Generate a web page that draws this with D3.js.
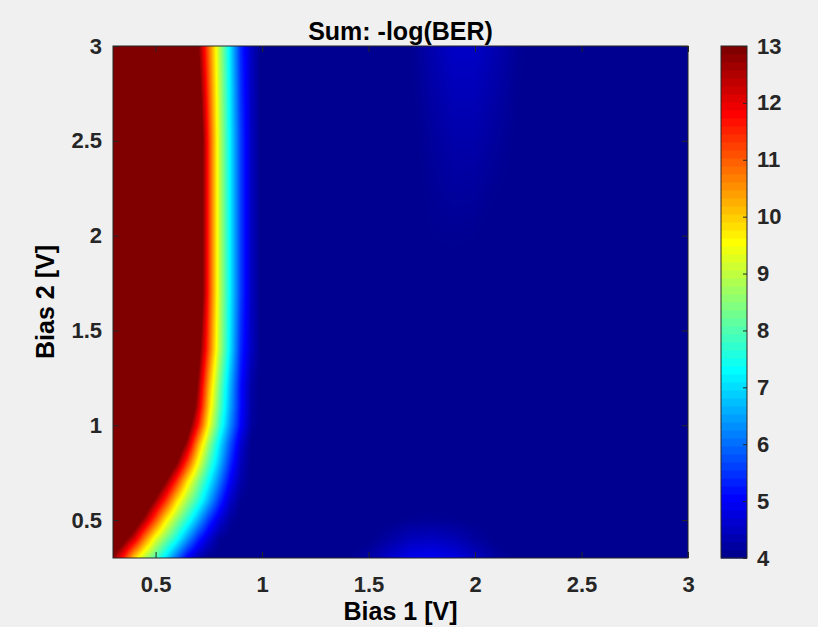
<!DOCTYPE html>
<html>
<head>
<meta charset="utf-8">
<script src="https://cdn.jsdelivr.net/npm/d3@7"></script>
<style>
  body { margin: 0; background: #f0f0f0; }
  svg { display: block; }
</style>
</head>
<body>
<svg id="chart" width="818" height="627"></svg>
<script>
// ---------------- DATA ----------------
const titleText = "Sum: -log(BER)";
const xLabelText = "Bias 1 [V]";
const yLabelText = "Bias 2 [V]";

// Bias 1 grid (columns), Bias 2 grid (rows)
const bias1 = [0.30,0.35,0.40,0.45,0.50,0.55,0.60,0.65,0.70,0.75,0.80,0.85,0.90,0.95,1.00,1.05,
               1.2,1.4,1.5,1.6,1.7,1.8,1.9,2.0,2.1,2.2,2.3,2.5,2.7,3.0];
const bias2 = [0.3,0.4,0.5,0.6,0.7,0.8,0.9,1.0,1.1,1.2,1.4,1.7,2.0,2.5,3.0];

// -log(BER) sum, one row per bias2 value (values above 13 / below 4 are clipped by the colour axis)
const row030 = [12.8,11.55,9.95,8.85,7.95,7.0,5.95,4.95,4.35,4.05,4.0,4.0,4.0,4.0,4.0,4.0, 4.0,4.05,4.25,4.6,4.9,4.95,4.8,4.5,4.2,4.05,4.0,4.0,4.0,4.0];
const row040 = [14.3,13.25,12.15,10.65,9.3,8.33,7.4,6.36,5.35,4.63,4.14,4.0,4.0,4.0,4.0,4.0, 4.0,4.0,4.05,4.25,4.45,4.5,4.4,4.2,4.05,4.0,4.0,4.0,4.0,4.0];
const row050 = [15,15,13.8,12.5,11.1,9.65,8.55,7.6,6.55,5.5,4.7,4.2,4.0,4.0,4.0,4.0, 4.0,4.0,4.0,4.05,4.12,4.15,4.1,4.05,4.0,4.0,4.0,4.0,4.0,4.0];
const row060 = [15,15,15,14.0,12.65,11.3,9.8,8.65,7.65,6.55,5.45,4.55,4.1,4.0,4.0,4.0, 4,4,4,4,4,4,4,4,4,4,4,4,4,4];
const row070 = [15,15,15,15,14.1,12.8,11.3,9.7,8.4,7.25,6.1,5.0,4.3,4.05,4.0,4.0, 4,4,4,4,4,4,4,4,4,4,4,4,4,4];
const row080 = [15,15,15,15,15,14.25,12.9,11.2,9.45,7.95,6.7,5.43,4.45,4.05,4.0,4.0, 4,4,4,4,4,4,4,4,4,4,4,4,4,4];
const row090 = [15,15,15,15,15,15,14.06,12.5,10.4,8.6,7.1,5.8,4.65,4.05,4.0,4.0, 4,4,4,4,4,4,4,4,4,4,4,4,4,4];
const row100 = [15,15,15,15,15,15,15,13.55,11.65,9.5,7.75,6.3,5.05,4.2,4.0,4.0, 4,4,4,4,4,4,4,4,4,4,4,4,4,4];
const row110 = [15,15,15,15,15,15,15,14.3,12.35,10.0,8.1,6.55,5.15,4.25,4.0,4.0, 4,4,4,4,4,4,4,4,4,4,4,4,4,4];
const row120 = [15,15,15,15,15,15,15,14.7,12.7,10.3,8.3,6.65,5.15,4.25,4.0,4.0, 4,4,4,4,4,4,4,4,4,4,4,4,4,4];
const row140 = [15,15,15,15,15,15,15,15,13.4,11.1,8.9,7.1,5.4,4.5,4.0,4.0, 4,4,4,4,4,4,4,4,4,4,4,4,4,4];
const row170 = [15,15,15,15,15,15,15,15,14.1,11.4,9.05,7.2,5.6,4.5,4.0,4.0, 4,4,4,4,4,4,4,4,4,4,4,4,4,4];
const row200 = [15,15,15,15,15,15,15,15,14.1,11.4,9.05,7.2,5.6,4.5,4.0,4.0, 4,4,4,4,4,4.08,4.1,4.08,4,4,4,4,4,4];
const row250 = [15,15,15,15,15,15,15,15,14.1,11.4,9.05,7.2,5.6,4.5,4.0,4.0, 4,4,4,4,4.02,4.18,4.3,4.3,4.18,4.05,4,4,4,4];
const row300 = [15,15,15,15,15,15,15,15,13.0,10.9,8.9,7.1,5.4,4.5,4.0,4.0, 4,4,4,4,4.08,4.35,4.55,4.55,4.35,4.12,4,4,4,4];
const sumLogBER = [row030,row040,row050,row060,row070,row080,row090,row100,row110,row120,row140,row170,row200,row250,row300];

const xTickValues = [0.5, 1, 1.5, 2, 2.5, 3];
const xTickLabels = ["0.5", "1", "1.5", "2", "2.5", "3"];
const yTickValues = [0.5, 1, 1.5, 2, 2.5, 3];
const yTickLabels = ["0.5", "1", "1.5", "2", "2.5", "3"];
const cTickValues = [4, 5, 6, 7, 8, 9, 10, 11, 12, 13];
const cLimits = [4, 13];
const axisLimits = [0.3, 3];

// ---------------- LAYOUT ----------------
const plotL = 113, plotR = 688, plotT = 46, plotB = 558;
const cbL = 721, cbR = 747;
const ink = "#262626";
const fontFam = '"Liberation Sans", Arial, Helvetica, sans-serif';

const x = d3.scaleLinear().domain(axisLimits).range([plotL, plotR]);
const y = d3.scaleLinear().domain(axisLimits).range([plotB, plotT]);
const cScale = d3.scaleLinear().domain(cLimits).range([plotB, plotT]);

// MATLAB jet(64) colormap (stop positions at colour-index centres)
const nColors = 64;
const step = (cLimits[1] - cLimits[0]) / nColors;
const jetStops = [0.5, 7.5, 23.5, 39.5, 55.5, 63.5].map(i => cLimits[0] + i * step);
const jet = d3.scaleLinear().domain(jetStops)
  .range(["#000090", "#0000ff", "#00ffff", "#ffff00", "#ff0000", "#800000"])
  .interpolate(d3.interpolateRgb).clamp(true);

// bilinear interpolation on the (non-uniform) grid
function valueAt(xv, yv) {
  let i = d3.bisectRight(bias1, xv) - 1; i = Math.max(0, Math.min(bias1.length - 2, i));
  let j = d3.bisectRight(bias2, yv) - 1; j = Math.max(0, Math.min(bias2.length - 2, j));
  const tx = Math.max(0, Math.min(1, (xv - bias1[i]) / (bias1[i + 1] - bias1[i])));
  const ty = Math.max(0, Math.min(1, (yv - bias2[j]) / (bias2[j + 1] - bias2[j])));
  const a = sumLogBER[j][i], b = sumLogBER[j][i + 1];
  const c = sumLogBER[j + 1][i], d = sumLogBER[j + 1][i + 1];
  return (a * (1 - tx) + b * tx) * (1 - ty) + (c * (1 - tx) + d * tx) * ty;
}

// colour lookup table
const LUT_N = 1024;
const lut = d3.range(LUT_N).map(k => d3.rgb(jet(cLimits[0] + (k + 0.5) / LUT_N * (cLimits[1] - cLimits[0]))));

const W = plotR - plotL, H = plotB - plotT;
const canvas = document.createElement("canvas");
canvas.width = W; canvas.height = H;
const ctx = canvas.getContext("2d");
const img = ctx.createImageData(W, H);
for (let py = 0; py < H; py++) {
  const yv = y.invert(plotT + py + 0.5);
  for (let px = 0; px < W; px++) {
    const xv = x.invert(plotL + px + 0.5);
    const v = valueAt(xv, yv);
    let k = Math.floor((v - cLimits[0]) / (cLimits[1] - cLimits[0]) * LUT_N);
    k = Math.max(0, Math.min(LUT_N - 1, k));
    const col = lut[k];
    const o = (py * W + px) * 4;
    img.data[o] = col.r; img.data[o + 1] = col.g; img.data[o + 2] = col.b; img.data[o + 3] = 255;
  }
}
ctx.putImageData(img, 0, 0);

// ---------------- DRAW ----------------
const svg = d3.select("#chart");
svg.append("rect").attr("width", 818).attr("height", 627).attr("fill", "#f0f0f0");

svg.append("image")
  .attr("x", plotL).attr("y", plotT).attr("width", W).attr("height", H)
  .attr("preserveAspectRatio", "none")
  .attr("href", canvas.toDataURL());

function styleAxis(g, showText) {
  g.select(".domain").remove();
  g.selectAll(".tick line").attr("stroke", ink).attr("stroke-width", 1);
  g.selectAll(".tick text")
    .attr("fill", ink).attr("font-family", fontFam)
    .attr("font-size", 22).attr("font-weight", "bold");
  if (!showText) g.selectAll(".tick text").remove();
}

const xLabelOf = d => xTickLabels[xTickValues.indexOf(d)];
const yLabelOf = d => yTickLabels[yTickValues.indexOf(d)];

svg.append("g").attr("transform", `translate(0,${plotB})`)
  .call(d3.axisBottom(x).tickValues(xTickValues).tickFormat(xLabelOf).tickSizeInner(-6).tickSizeOuter(0).tickPadding(18))
  .call(g => styleAxis(g, true));
svg.append("g").attr("transform", `translate(0,${plotT})`)
  .call(d3.axisTop(x).tickValues(xTickValues).tickSizeInner(-6).tickSizeOuter(0))
  .call(g => styleAxis(g, false));
svg.append("g").attr("transform", `translate(${plotL},0)`)
  .call(d3.axisLeft(y).tickValues(yTickValues).tickFormat(yLabelOf).tickSizeInner(-6).tickSizeOuter(0).tickPadding(11))
  .call(g => styleAxis(g, true));
svg.append("g").attr("transform", `translate(${plotR},0)`)
  .call(d3.axisRight(y).tickValues(yTickValues).tickSizeInner(-6).tickSizeOuter(0))
  .call(g => styleAxis(g, false));

svg.append("rect")
  .attr("x", plotL).attr("y", plotT).attr("width", W).attr("height", H)
  .attr("fill", "none").attr("stroke", ink).attr("stroke-width", 1);

// colour bar
const cbSteps = d3.range(nColors).map(i => cLimits[0] + i * step);
svg.append("g").selectAll("rect").data(cbSteps).join("rect")
  .attr("x", cbL).attr("width", cbR - cbL)
  .attr("y", d => cScale(d + step))
  .attr("height", d => cScale(d) - cScale(d + step) + 0.5)
  .attr("fill", d => jet(d + step / 2));
svg.append("rect")
  .attr("x", cbL).attr("y", plotT).attr("width", cbR - cbL).attr("height", H)
  .attr("fill", "none").attr("stroke", ink).attr("stroke-width", 1);
svg.append("g").attr("transform", `translate(${cbR},0)`)
  .call(d3.axisRight(cScale).tickValues(cTickValues).tickFormat(d3.format("d")).tickSizeInner(-4).tickSizeOuter(0).tickPadding(10))
  .call(g => styleAxis(g, true));

// title & labels
svg.append("text").attr("x", (plotL + plotR) / 2).attr("y", 40)
  .attr("text-anchor", "middle").attr("font-family", fontFam)
  .attr("font-size", 25).attr("font-weight", "bold").attr("fill", "#000")
  .text(titleText);
svg.append("text").attr("x", (plotL + plotR) / 2).attr("y", 620)
  .attr("text-anchor", "middle").attr("font-family", fontFam)
  .attr("font-size", 25).attr("font-weight", "bold").attr("fill", "#000")
  .text(xLabelText);
svg.append("text")
  .attr("transform", `translate(54,${(plotT + plotB) / 2}) rotate(-90)`)
  .attr("text-anchor", "middle").attr("font-family", fontFam)
  .attr("font-size", 25).attr("font-weight", "bold").attr("fill", "#000")
  .text(yLabelText);
</script>
</body>
</html>
